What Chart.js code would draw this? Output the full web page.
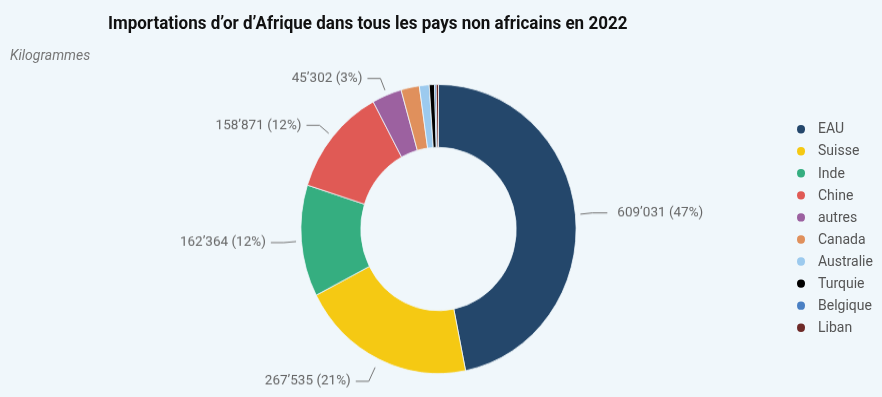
<!DOCTYPE html>
<html lang="fr">
<head>
    <meta charset="UTF-8">
    <title>Importations d’or d’Afrique</title>
    <script src="https://cdn.jsdelivr.net/npm/chart.js"></script>
    <style>
        html { overflow: hidden; background: #f0f7fb; }
        body { margin: 0; padding: 0; background: #f0f7fb; height: 397px; }
        #stage {
            position: relative; width: 882px; height: 378px;
            transform: scaleY(1.0503); transform-origin: 0 0;
            font-family: Roboto, "Liberation Sans", sans-serif;
        }
        #title {
            position: absolute; left: 108px; top: 11px; white-space: nowrap;
            font-size: 17px; font-weight: bold; color: #111; line-height: 22px;
        }
        #unit {
            position: absolute; left: 10px; top: 44px;
            font-size: 14px; font-style: italic; color: #777;
        }
        #legend { position: absolute; left: 797px; top: 112px; }
        .item { height: 21px; line-height: 21px; font-size: 14px; color: #555; white-space: nowrap; }
        .dot { display: inline-block; width: 8px; height: 8px; border-radius: 50%; margin-right: 13px; vertical-align: 0px; }
        canvas { position: absolute; left: 0; top: 0; }
    </style>
</head>
<body>
<div id="stage">
    <canvas id="donut" width="882" height="378"></canvas>
    <div id="title">Importations d’or d’Afrique dans tous les pays non africains en 2022</div>
    <div id="unit">Kilogrammes</div>
    <div id="legend"></div>
</div>
<script>
    // data
    var pays = ['EAU', 'Suisse', 'Inde', 'Chine', 'autres', 'Canada', 'Australie', 'Turquie', 'Belgique', 'Liban'];
    var kilos = [609031, 267535, 162364, 158871, 45302, 28000, 15000, 8000, 2500, 3500];
    var couleurs = ['#24476b', '#f5c913', '#35ae80', '#e05a55', '#9c61a0', '#e0905c', '#9ccaee', '#000000', '#4a80c4', '#6e2a28'];
    var nbEtiquettes = 5; // only the five biggest slices get a label

    var total = kilos.reduce(function(a, b) { return a + b; }, 0);

    function fmt(n) {
        return String(n).replace(/\B(?=(\d{3})+(?!\d))/g, '’');
    }

    // legend
    var leg = document.getElementById('legend');
    pays.forEach(function(p, i) {
        var d = document.createElement('div');
        d.className = 'item';
        d.innerHTML = '<span class="dot" style="background:' + couleurs[i] + '"></span>' + p;
        leg.appendChild(d);
    });

    // labels with leader lines
    var etiquettes = {
        id: 'etiquettes',
        afterDatasetsDraw: function(chart) {
            var ctx = chart.ctx;
            var arcs = chart.getDatasetMeta(0).data;
            ctx.save();
            ctx.font = '13.5px Roboto, "Liberation Sans", sans-serif';
            ctx.fillStyle = '#666';
            ctx.strokeStyle = '#777';
            ctx.lineWidth = 1;
            ctx.textBaseline = 'middle';
            for (var i = 0; i < nbEtiquettes; i++) {
                var a = arcs[i].getProps(['x', 'y', 'startAngle', 'endAngle', 'outerRadius'], true);
                var mid = (a.startAngle + a.endAngle) / 2;
                var c = Math.cos(mid), s = Math.sin(mid);
                var down = Math.max(0, s);
                var r0 = a.outerRadius + 5 + 4 * down, r1 = a.outerRadius + 17 + 7 * down;
                var x0 = a.x + c * r0, y0 = a.y + s * r0;
                var x1 = a.x + c * r1, y1 = a.y + s * r1;
                var dir = c >= 0 ? 1 : -1;
                var x2 = x1 + dir * (dir > 0 ? 15 : 13);
                ctx.beginPath();
                ctx.moveTo(x0, y0);
                ctx.lineTo(x1, y1);
                ctx.lineTo(x2, y1);
                ctx.stroke();
                var pct = Math.round(kilos[i] / total * 100);
                ctx.textAlign = dir > 0 ? 'left' : 'right';
                ctx.fillText(fmt(kilos[i]) + ' (' + pct + '%)', x2 + dir * (dir > 0 ? 10 : 5), y1);
            }
            ctx.restore();
        }
    };

    new Chart(document.getElementById('donut'), {
        type: 'doughnut',
        data: {
            labels: pays,
            datasets: [{
                data: kilos,
                backgroundColor: couleurs,
                borderColor: '#f0f7fb',
                borderWidth: 0.8
            }]
        },
        options: {
            responsive: false,
            animation: false,
            cutout: '56.5%',
            layout: { padding: { top: 80, bottom: 22, left: 0, right: 5 } },
            plugins: {
                legend: { display: false },
                tooltip: { enabled: false }
            }
        },
        plugins: [etiquettes]
    });
</script>
</body>
</html>
